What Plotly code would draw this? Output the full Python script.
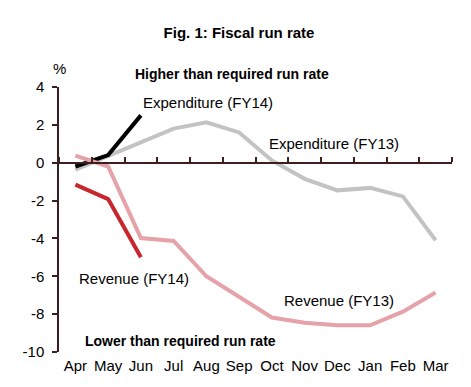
import plotly.graph_objects as go

months = ["Apr", "May", "Jun", "Jul", "Aug", "Sep", "Oct", "Nov", "Dec", "Jan", "Feb", "Mar"]
exp_fy14 = [-0.2, 0.4, 2.5]
exp_fy13 = [-0.37, 0.37, 1.06, 1.8, 2.13, 1.6, 0.12, -0.85, -1.46, -1.33, -1.78, -4.1]
rev_fy14 = [-1.16, -1.92, -4.99]
rev_fy13 = [0.37, -0.2, -3.98, -4.13, -6.0, -7.07, -8.18, -8.45, -8.59, -8.59, -7.87, -6.86]
yticks = [4, 2, 0, -2, -4, -6, -8, -10]
yticklabels = ["4", "2", "0", "-2", "-4", "-6", "-8", "-10"]

W, H = 471, 387
L, R, T, B = 59, 19, 87, 35
FONT = "Liberation Sans, Arial, sans-serif"
AXC = "#3d1f1f"

fig = go.Figure()
fig.add_trace(go.Scatter(x=months, y=exp_fy13, mode="lines", line=dict(color="#c3c3c3", width=4)))
fig.add_trace(go.Scatter(x=months[:3], y=exp_fy14, mode="lines", line=dict(color="#000000", width=4)))
fig.add_trace(go.Scatter(x=months, y=rev_fy13, mode="lines", line=dict(color="#e5a2a8", width=4)))
fig.add_trace(go.Scatter(x=months[:3], y=rev_fy14, mode="lines", line=dict(color="#c8252c", width=4)))
# invisible trace to carry the zero-line axis
fig.add_trace(go.Scatter(x=months, y=[None] * len(months), xaxis="x2", mode="lines", hoverinfo="skip"))

ymin, ymax = -10, 4
zero_pos = (0 - ymin) / (ymax - ymin)

fig.update_layout(
    width=W, height=H,
    margin=dict(l=L, r=R, t=T, b=B),
    paper_bgcolor="white", plot_bgcolor="white",
    showlegend=False,
    font=dict(family=FONT, size=15, color="#000000"),
    title=dict(text="<b>Fig. 1: Fiscal run rate</b>", x=239 / W, y=1 - 33 / H,
               xanchor="center", yanchor="middle", font=dict(size=15, family=FONT)),
    xaxis=dict(type="category", categoryarray=months, range=[-0.5, 11.5],
               showline=False, showgrid=False, zeroline=False, ticks="",
               ticklabelstandoff=3,
               tickfont=dict(size=15, family=FONT)),
    xaxis2=dict(type="category", categoryarray=months, range=[-0.5, 11.5],
                overlaying="x", anchor="free", position=zero_pos, side="top",
                showline=True, linecolor=AXC, linewidth=1.5,
                ticks="outside", tickson="boundaries", ticklen=5, tickcolor=AXC, tickwidth=1.5,
                showticklabels=False, showgrid=False, zeroline=False),
    yaxis=dict(range=[ymin, ymax], tickvals=yticks, ticktext=yticklabels,
               showgrid=False, zeroline=False,
               showline=True, linecolor=AXC, linewidth=1.5,
               ticks="outside", ticklen=5, tickcolor=AXC, tickwidth=1.5,
               ticklabelstandoff=5,
               tickfont=dict(size=15, family=FONT)),
)

def ann(text, x, y, xanchor="left", bold=False, size=15, xref="x", yref="y"):
    fig.add_annotation(text=f"<b>{text}</b>" if bold else text, x=x, y=y, xref=xref, yref=yref,
                       xanchor=xanchor, yanchor="middle", showarrow=False,
                       font=dict(size=size, family=FONT, color="#000000"))

ann("Expenditure (FY14)", 2.0, 3.17)
ann("Expenditure (FY13)", 5.85, 1.0)
ann("Revenue (FY14)", 0.06, -6.14)
ann("Revenue (FY13)", 6.32, -7.29)
ann("Higher than required run rate", 0.188, 1.049, bold=True, size=14, xref="paper", yref="paper")
ann("Lower than required run rate", 0.23, -9.42, bold=True, size=14)
ann("%", 0.0, 1.068, xanchor="center", xref="paper", yref="paper")

fig.write_html("out.html", config={"displayModeBar": False},
               post_script="document.body.style.margin='0';")
